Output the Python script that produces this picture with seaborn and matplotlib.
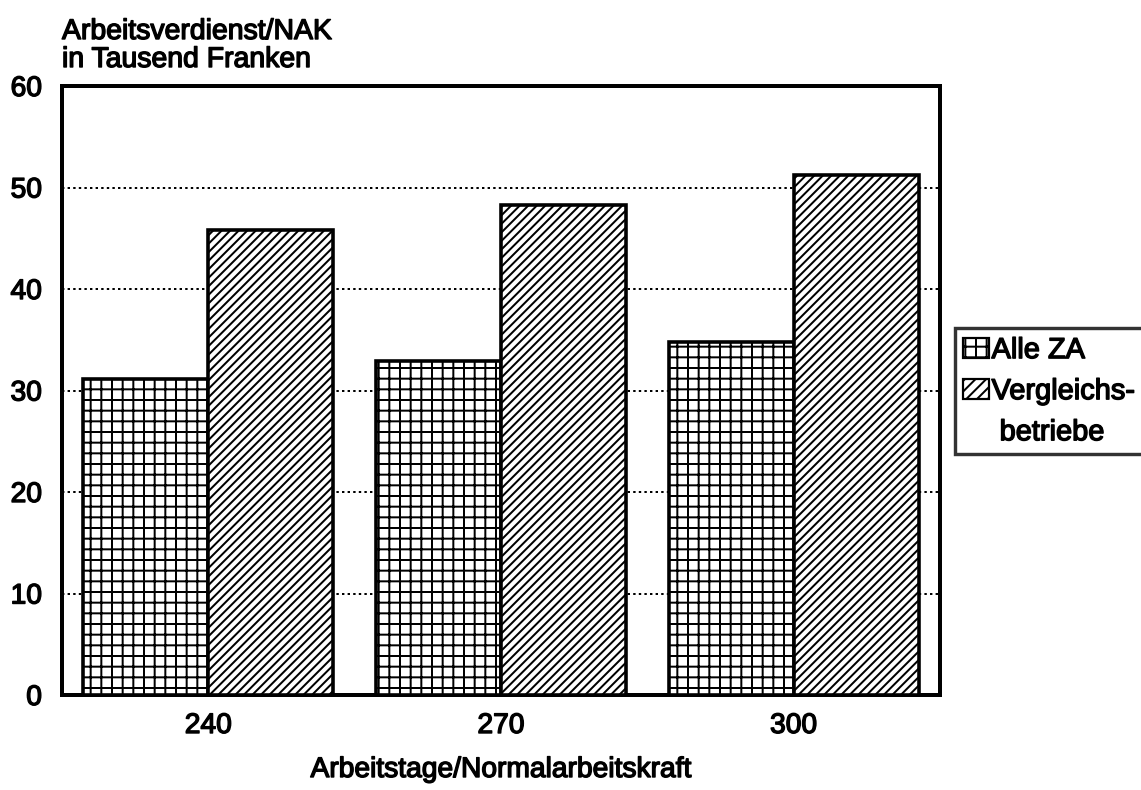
import matplotlib
matplotlib.use("Agg")
import matplotlib.pyplot as plt
import matplotlib.patheffects as pe
from matplotlib.patches import Patch
import seaborn as sns
import pandas as pd

# Arbeitsverdienst je NAK (Tausend Franken) nach Arbeitstagen je Normalarbeitskraft
arbeitstage = ["240", "270", "300"]
alle_za = [31.1, 32.9, 34.8]
vergleichsbetriebe = [45.8, 48.3, 51.2]
serien = ["Alle ZA", "Vergleichsbetriebe"]
legenden_zeilen = ["Alle ZA", "Vergleichs-", " betriebe"]
y_ticks = [0, 10, 20, 30, 40, 50, 60]

df = pd.DataFrame({
    "Arbeitstage": arbeitstage * 2,
    "Wert": alle_za + vergleichsbetriebe,
    "Gruppe": [serien[0]] * 3 + [serien[1]] * 3,
})

DPI = 128
W, H = 1141, 790


def pt(px):
    """Convert a size in output pixels to points."""
    return px * 72 / DPI


sns.set_theme(style="white")
plt.rcParams["font.family"] = ["Liberation Sans", "DejaVu Sans"]
plt.rcParams["text.color"] = "black"
plt.rcParams["axes.labelcolor"] = "black"
plt.rcParams["xtick.color"] = "black"
plt.rcParams["ytick.color"] = "black"
plt.rcParams["hatch.linewidth"] = pt(2.0)
plt.rcParams["hatch.color"] = "black"

# slightly heavier glyph strokes for all text
heavy = [pe.withStroke(linewidth=pt(1.4), foreground="black")]

fig = plt.figure(figsize=(W / DPI, H / DPI), dpi=DPI)
ax = fig.add_axes([62 / W, 1 - 695 / H, 878 / W, 609 / H])

sns.barplot(data=df, x="Arbeitstage", y="Wert", hue="Gruppe", order=arbeitstage,
            hue_order=serien, width=0.855, palette=["white", "white"],
            edgecolor="black", linewidth=pt(3.6), legend=False, ax=ax, zorder=3)

hatches = ["++", "/////"]
for cont, h in zip(ax.containers, hatches):
    for bar in cont:
        bar.set_hatch(h)
        bar.set_edgecolor("black")
        bar.set_facecolor("white")

ax.set_ylim(0, 60)
ax.set_yticks(y_ticks)
ax.set_yticklabels([str(t) for t in y_ticks], fontsize=pt(28.2))
ax.set_xticks(range(len(arbeitstage)))
ax.set_xticklabels(arbeitstage, fontsize=pt(28.2))
ax.tick_params(axis="both", length=0)
ax.tick_params(axis="x", pad=pt(18))
ax.tick_params(axis="y", pad=pt(20))

for y in y_ticks[1:-1]:
    ax.axhline(y, color="black", linestyle=(0, (1.2, 1.6)), linewidth=pt(2.0), zorder=1)

for s in ax.spines.values():
    s.set_color("black")
    s.set_linewidth(pt(4.0))

ax.set_xlabel("Arbeitstage/Normalarbeitskraft", fontsize=pt(28.2), labelpad=pt(18))
ax.set_ylabel("")

fig.text(62 / W, 1 - 46 / H, "Arbeitsverdienst/NAK\nin Tausend Franken",
         fontsize=pt(28.4), va="center", ha="left", linespacing=1.1, path_effects=heavy)

handles = [Patch(facecolor="white", edgecolor="black", hatch="++", linewidth=pt(2.2)),
           Patch(facecolor="white", edgecolor="black", hatch="////", linewidth=pt(2.2)),
           Patch(facecolor="none", edgecolor="none")]
leg = fig.legend(handles, legenden_zeilen, loc="upper left",
                 bbox_to_anchor=(955 / W, 1 - 328 / H),
                 fontsize=pt(29), frameon=True, fancybox=False, edgecolor="black",
                 handlelength=0.9, handleheight=0.65, handletextpad=0.08,
                 borderpad=0.28, labelspacing=0.45, borderaxespad=0)
leg.get_frame().set_linewidth(pt(3.4))

for t in (ax.get_xticklabels() + ax.get_yticklabels() + [ax.xaxis.label]
          + leg.get_texts()):
    t.set_path_effects(heavy)

fig.savefig("out.png", dpi=DPI, facecolor="white")
